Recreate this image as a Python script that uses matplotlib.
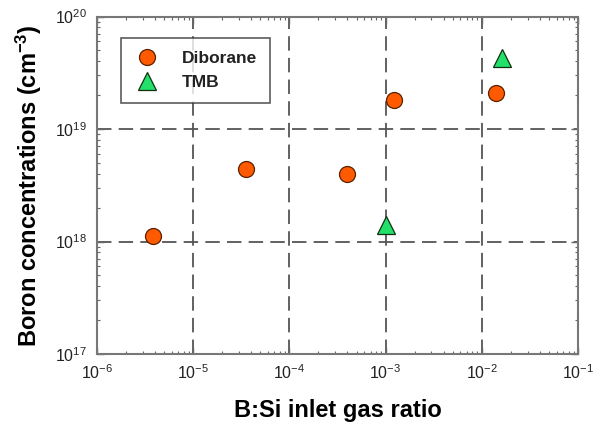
import matplotlib
matplotlib.use("Agg")
import matplotlib.pyplot as plt
from matplotlib.ticker import LogLocator, NullFormatter

plt.rcParams['font.family'] = ['Liberation Sans', 'DejaVu Sans']
plt.rcParams['mathtext.fontset'] = 'custom'
plt.rcParams['mathtext.rm'] = 'Liberation Sans'
plt.rcParams['mathtext.it'] = 'Liberation Sans:italic'
plt.rcParams['mathtext.bf'] = 'Liberation Sans:bold'
plt.rcParams['axes.unicode_minus'] = False

diborane_x = [3.85e-6, 3.54e-5, 3.97e-4, 1.21e-3, 1.41e-2]
diborane_y = [1.13e18, 4.41e18, 4.0e18, 1.80e19, 2.10e19]
tmb_x = [1.01e-3, 1.63e-2]
tmb_y = [1.40e18, 4.32e19]

xlim = (1e-6, 1e-1)
ylim = (1e17, 1e20)

fig = plt.figure(figsize=(6.03, 4.24), dpi=100)
ax = fig.add_axes([97/603, 1-354/424, (578-97)/603, (354-16.5)/424])
ax.set_xscale('log')
ax.set_yscale('log')
ax.set_xlim(*xlim)
ax.set_ylim(*ylim)

grid_kw = dict(color='#555555', linewidth=1.3, dashes=(8, 4), zorder=1)
for v in [1e-5, 1e-4, 1e-3, 1e-2]:
    ax.axvline(v, **grid_kw)
for v in [1e18, 1e19]:
    ax.axhline(v, **grid_kw)

ax.plot(diborane_x, diborane_y, 'o', ms=11.5, mfc='#FF5A00', mec='#5a2000',
        mew=0.9, label='Diborane', zorder=3, linestyle='none')
ax.plot(tmb_x, tmb_y, '^', ms=12.5, mfc='#22E06A', mec='#103010',
        mew=0.9, label='TMB', zorder=3, linestyle='none')

for s in ax.spines.values():
    s.set_color('#777777')
    s.set_linewidth(1.5)

ax.xaxis.set_major_locator(LogLocator(base=10, numticks=10))
ax.yaxis.set_major_locator(LogLocator(base=10, numticks=10))
ax.xaxis.set_minor_locator(LogLocator(base=10, subs=range(2, 10), numticks=10))
ax.yaxis.set_minor_locator(LogLocator(base=10, subs=range(2, 10), numticks=10))
ax.xaxis.set_minor_formatter(NullFormatter())
ax.yaxis.set_minor_formatter(NullFormatter())
ax.tick_params(which='both', direction='in', top=True, right=True, color='#666666')
ax.tick_params(which='major', length=5, width=1.0, labelsize=11.5, pad=7)
ax.tick_params(which='minor', length=2.5, width=0.8)
for lab in ax.get_xticklabels() + ax.get_yticklabels():
    lab.set_color('#222222')

ax.set_xlabel('B:Si inlet gas ratio', fontsize=17, fontweight='bold', labelpad=12)
ax.set_ylabel('Boron concentrations (cm$^{\\mathbf{-3}}$)', fontsize=17,
              fontweight='bold', labelpad=8)

leg = ax.legend(loc='upper left', bbox_to_anchor=(0.049, 0.936), frameon=True,
                fancybox=False, edgecolor='#333333', fontsize=12.5,
                borderpad=0.75, handletextpad=1.3, labelspacing=0.5,
                handlelength=1.5, borderaxespad=0)
leg.get_frame().set_linewidth(1.2)
for t in leg.get_texts():
    t.set_fontweight('bold')
    t.set_color('#222222')

fig.savefig('out.png', dpi=100)
